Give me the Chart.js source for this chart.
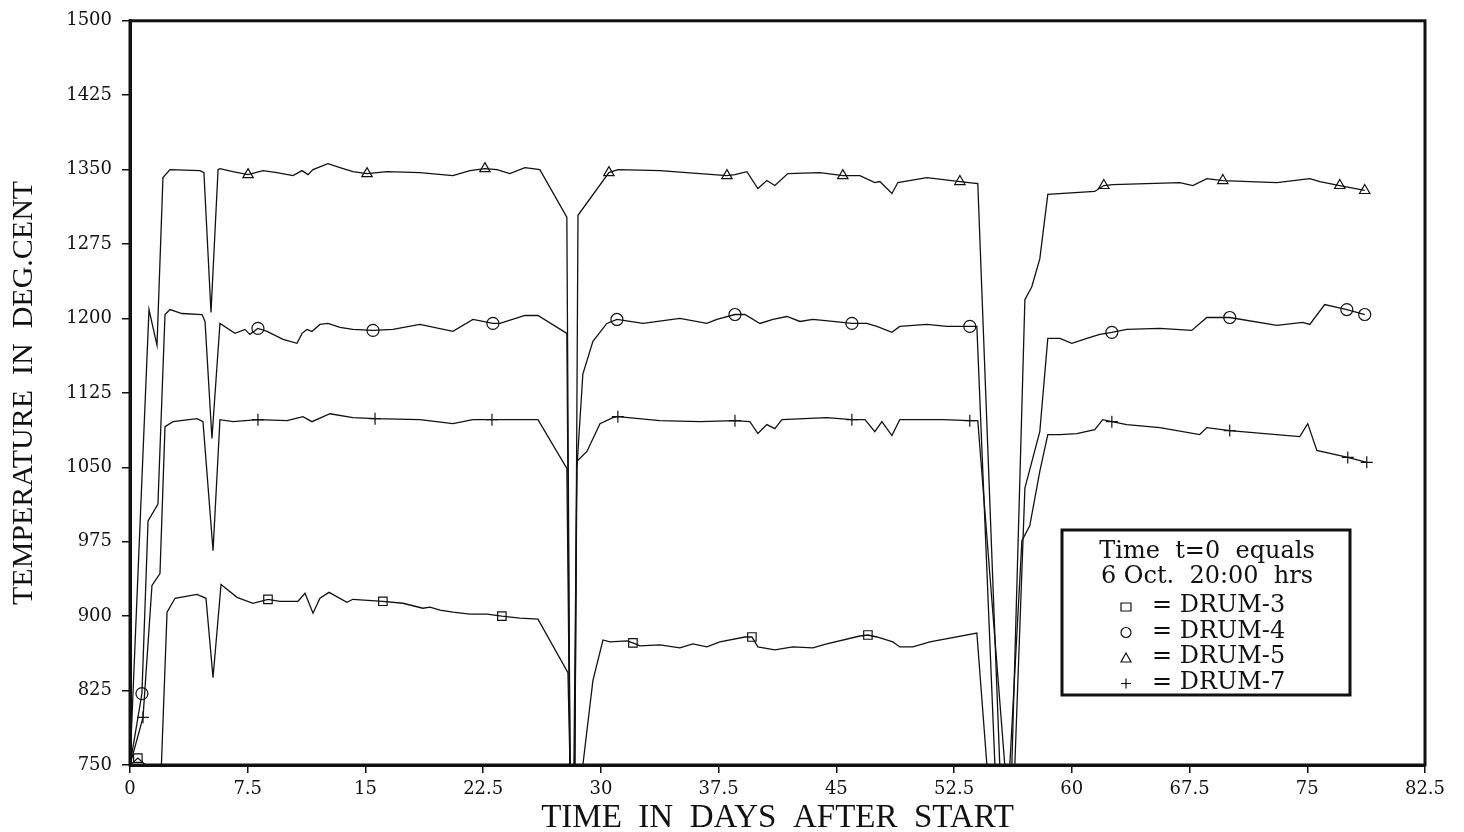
<!DOCTYPE html>
<html><head><meta charset="utf-8">
<script src="https://cdn.jsdelivr.net/npm/chart.js@4"></script>
<style>html,body{margin:0;padding:0;background:#fff}#wrap{width:1464px;height:832px}</style>
</head><body><div id="wrap"><canvas id="c" width="1464" height="832"></canvas></div>
<script>
// ---------- DATA ----------
const xTickLabels = ['0','7.5','15','22.5','30','37.5','45','52.5','60','67.5','75','82.5'];
const yTickLabels = ['750','825','900','975','1050','1125','1200','1275','1350','1425','1500'];

const days3  = [0,0.5,1.0,2.0,2.36,2.87,4.27,4.84,5.29,5.80,6.82,7.83,8.79,9.55,10.70,11.15,11.66,12.10,12.68,13.82,14.20,16.11,17.39,18.66,19.11,19.75,20.57,21.66,22.74,23.69,24.84,25.99,27.90,28.03,28.85,29.49,30.13,30.57,31.66,32.04,32.48,33.76,35.03,35.86,36.75,37.58,39.17,39.62,40.0,41.08,42.23,43.50,44.39,46.50,47.01,47.58,48.60,49.04,49.87,50.96,53.95,54.59];
const temps3 = [750,757,750,750,904,918,922,918,838,932,919,913,917,915,915,923,903,918,924,914,917,915,913,908,909,906,904,902,902,900,898,897,843,750,750,835,876,874,875,873,870,871,868,872,869,874,879,879,869,866,869,868,872,880,881,879,874,869,869,874,883,750];
const marks3 = [0.5,8.79,16.11,23.69,32.04,39.62,47.01];

const days4  = [0,0.76,1.15,1.78,2.23,2.55,3.31,4.59,4.78,5.22,5.73,6.69,7.32,7.64,8.15,8.73,9.75,10.64,10.96,11.27,11.59,12.10,12.61,13.38,14.20,15.48,16.75,18.47,20.57,21.85,23.12,23.57,25.16,25.99,27.83,28.03,28.34,28.47,28.85,29.49,30.38,31.02,31.85,32.68,35.03,36.75,37.39,38.54,39.17,40.13,40.96,41.85,42.68,43.50,44.78,45.99,46.94,47.58,48.54,49.04,50.76,52.04,53.50,53.95,55.10,56.37,57.01,57.96,58.47,59.24,60.0,60.96,61.78,62.55,63.50,65.61,67.64,68.60,70.06,73.06,74.71,75.16,76.11,77.52,78.22,78.66];
const temps4 = [750,822,996,1013,1204,1209,1205,1204,1197,1079,1195,1185,1189,1184,1190,1187,1179,1175,1185,1189,1187,1194,1195,1191,1189,1188,1189,1194,1187,1199,1195,1195,1203,1203,1185,750,750,1049,1144,1177,1195,1199,1197,1195,1200,1195,1199,1204,1204,1195,1199,1202,1197,1199,1197,1195,1195,1192,1186,1192,1194,1192,1192,1192,750,750,1029,1086,1180,1180,1175,1180,1184,1186,1189,1190,1188,1201,1201,1193,1196,1194,1214,1209,1206,1204];
const marks4 = [0.76,8.15,15.48,23.12,31.02,38.54,45.99,53.50,62.55,70.06,77.52,78.66];

const days5  = [0,1.21,1.72,2.10,2.55,4.46,4.71,5.16,5.61,5.73,6.56,7.52,8.47,9.36,10.38,10.96,11.34,11.66,12.61,13.38,14.20,15.10,16.37,18.47,20.57,21.66,22.61,23.38,24.20,25.16,26.11,27.83,28.03,28.34,28.54,30.51,31.08,33.76,36.31,38.03,38.54,39.30,40.0,40.57,41.08,41.91,43.95,45.41,46.50,47.45,47.77,48.54,48.92,50.76,52.87,54.01,55.41,56.18,57.01,57.45,57.96,58.47,61.46,62.04,62.61,66.88,67.71,68.60,69.62,73.06,75.16,75.80,77.07,78.66];
const temps5 = [750,1209,1173,1342,1350,1349,1347,1206,1350,1351,1348,1345,1349,1347,1344,1349,1345,1350,1356,1352,1348,1346,1348,1347,1344,1349,1351,1350,1346,1352,1350,1302,750,750,1304,1347,1350,1349,1346,1344,1345,1348,1331,1339,1334,1346,1347,1344,1344,1337,1338,1326,1337,1342,1338,1336,750,750,1219,1232,1260,1325,1328,1334,1335,1337,1334,1341,1339,1337,1341,1338,1334,1329];
const marks5 = [7.52,15.10,22.61,30.51,38.03,45.41,52.87,62.04,69.62,77.07,78.66];

const days7  = [0,0.83,1.40,1.91,2.23,2.74,4.27,4.65,5.29,5.73,6.56,8.15,10.0,11.02,11.59,12.74,14.20,15.61,18.47,20.57,21.85,23.06,25.99,27.83,28.03,28.28,28.47,29.11,29.94,30.76,31.08,33.76,36.31,38.54,39.49,40.0,40.57,41.08,41.53,44.39,45.99,46.82,47.45,47.90,48.54,49.04,51.78,53.50,54.01,55.73,56.05,56.82,57.32,57.96,58.47,59.24,60.32,61.46,61.97,62.55,63.50,65.61,68.15,68.60,70.06,74.52,75.03,75.61,77.58,78.79];
const temps7 = [750,798,931,943,1091,1096,1099,1096,966,1098,1096,1098,1097,1101,1096,1104,1100,1099,1098,1094,1098,1098,1098,1049,750,750,1056,1066,1094,1100,1101,1097,1096,1097,1096,1084,1093,1089,1098,1100,1098,1098,1086,1096,1082,1098,1098,1097,1097,750,750,976,991,1046,1083,1083,1084,1088,1098,1096,1093,1090,1083,1090,1087,1081,1094,1067,1060,1055];
const marks7 = [0.83,8.15,15.61,23.06,31.08,38.54,45.99,53.50,62.55,70.06,77.58,78.79];

const seriesNames = ['DRUM-3','DRUM-4','DRUM-5','DRUM-7'];
const legendHeader = ['Time  t=0  equals','6 Oct.  20:00  hrs'];

// ---------- CHART ----------
const INK = '#111';
const SERIF = '"Liberation Serif", "DejaVu Serif", serif';
const TICKFONT = '"DejaVu Serif", serif';
function mk(label, days, temps, marks, style){
  return {
    label, pointStyle: style,
    data: days.map((d,i)=>({x:d,y:temps[i]})),
    borderColor: INK, borderWidth: 1.3, tension: 0,
    pointBorderColor: INK, pointBackgroundColor: 'rgba(0,0,0,0)', pointBorderWidth: 1.2,
    pointRadius: ctx => marks.includes(ctx.raw && ctx.raw.x) ? 6 : 0,
    pointHoverRadius: 0
  };
}

function symbol(ctx, kind, x, y){
  const r = 5;
  ctx.beginPath();
  if (kind==='rect') ctx.rect(x-r, y-r+1, 2*r, 2*r-2);
  else if (kind==='circle') ctx.arc(x, y, r, 0, Math.PI*2);
  else if (kind==='triangle'){ ctx.moveTo(x, y-r); ctx.lineTo(x+r, y+r-1); ctx.lineTo(x-r, y+r-1); ctx.closePath(); }
  else { ctx.moveTo(x-r, y); ctx.lineTo(x+r, y); ctx.moveTo(x, y-r); ctx.lineTo(x, y+r); }
  ctx.stroke();
}

const framePlugin = {
  id:'frame',
  afterDatasetsDraw(chart){
    const {ctx, chartArea:a} = chart;
    ctx.save();
    ctx.strokeStyle = INK; ctx.lineWidth = 3;
    ctx.strokeRect(a.left, a.top, a.right-a.left, a.bottom-a.top);
    // legend box
    const bx=1062, by=530, bw=288, bh=165;
    ctx.fillStyle='#fff'; ctx.fillRect(bx,by,bw,bh);
    ctx.lineWidth=3; ctx.strokeRect(bx,by,bw,bh);
    ctx.fillStyle=INK; ctx.textBaseline='middle';
    ctx.font='24px "DejaVu Serif", serif';
    ctx.textAlign='center';
    ctx.fillText(legendHeader[0], bx+bw/2+1, 552);
    ctx.fillText(legendHeader[1], bx+bw/2+1, 577);
    const styles=['rect','circle','triangle','cross'];
    ctx.textAlign='left';
    seriesNames.forEach((n,i)=>{
      const y = 606 + i*25.5;
      ctx.lineWidth=1.2; ctx.strokeStyle=INK;
      symbol(ctx, styles[i], 1126, y+1);
      ctx.fillStyle=INK;
      ctx.fillText('= ' + n, 1152, y);
    });
    ctx.restore();
  }
};

new Chart(document.getElementById('c'), {
  type:'line',
  data:{datasets:[
    mk('DRUM-3', days3, temps3, marks3, 'rect'),
    mk('DRUM-4', days4, temps4, marks4, 'circle'),
    mk('DRUM-5', days5, temps5, marks5, 'triangle'),
    mk('DRUM-7', days7, temps7, marks7, 'cross')
  ]},
  options:{
    responsive:false, animation:false, devicePixelRatio:1,
    layout:{padding:{top:12,right:39,left:0,bottom:0}},
    plugins:{legend:{display:false}, tooltip:{enabled:false}},
    scales:{
      x:{type:'linear', min:0, max:82.5,
        afterFit(s){ s.height = 67; },
        ticks:{stepSize:7.5, autoSkip:false, maxRotation:0, color:INK, padding:6,
          font:{family:TICKFONT, size:18},
          callback:(v,i)=>xTickLabels[i]},
        grid:{drawOnChartArea:false, drawTicks:true, tickLength:8, tickColor:INK, lineWidth:1.5},
        border:{display:true, color:INK, width:3},
        title:{display:true, text:'TIME  IN  DAYS  AFTER  START', color:INK,
          font:{family:SERIF, size:33, lineHeight:0.8}, padding:{top:0,bottom:0}}
      },
      y:{type:'linear', min:750, max:1500,
        afterFit(s){ s.width = 130; },
        ticks:{stepSize:75, autoSkip:false, color:INK, padding:10,
          font:{family:TICKFONT, size:18},
          callback:(v,i)=>yTickLabels[i]},
        grid:{drawOnChartArea:false, drawTicks:true, tickLength:8, tickColor:INK, lineWidth:1.5},
        border:{display:true, color:INK, width:3},
        title:{display:true, text:'TEMPERATURE  IN  DEG.CENT', color:INK,
          font:{family:SERIF, size:30, lineHeight:1}, padding:{top:9,bottom:0}}
      }
    }
  },
  plugins:[framePlugin]
});
</script></body></html>
